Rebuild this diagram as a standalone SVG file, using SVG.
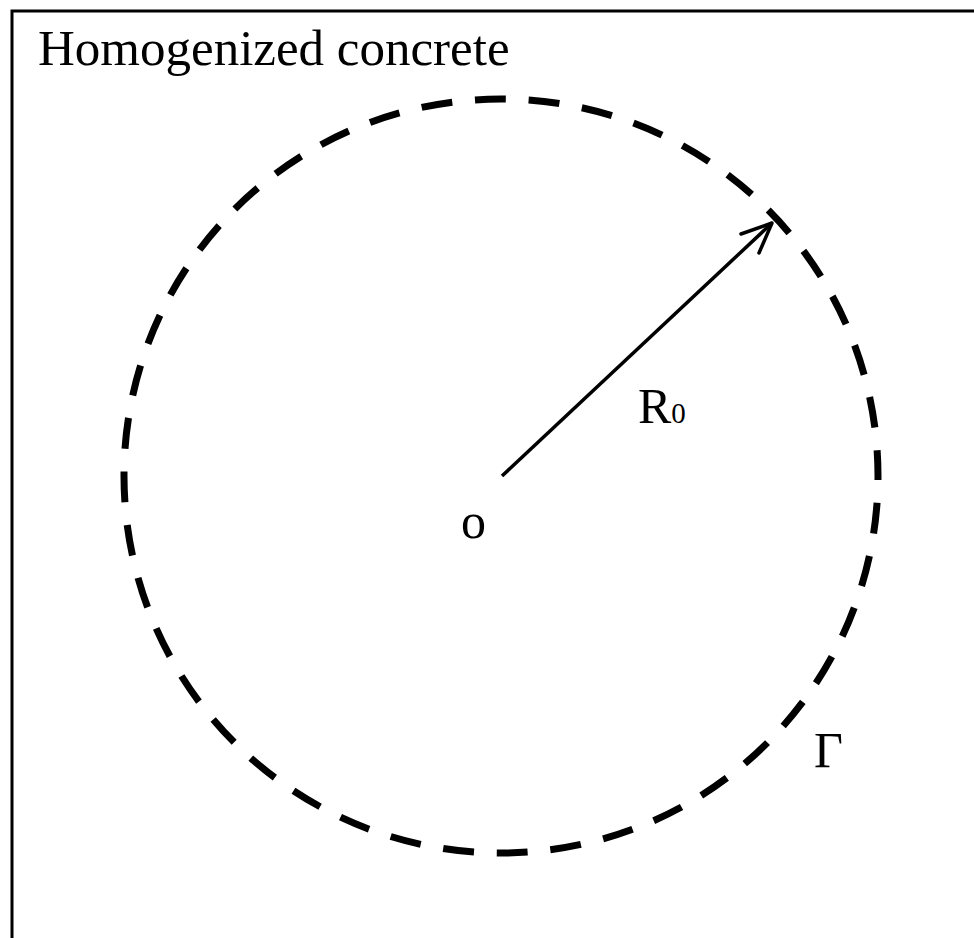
<svg xmlns="http://www.w3.org/2000/svg" width="974" height="938" viewBox="0 0 974 938">
<style>
.t{font-family:"Liberation Serif","Times New Roman",serif;fill:#000}
</style>
<rect width="974" height="938" fill="#fff"/>
<rect x="12" y="11" width="980" height="960" fill="none" stroke="#000" stroke-width="3"/>
<text class="t" x="38" y="65" font-size="51">Homogenized concrete</text>
<g id="boundary">
<circle cx="501" cy="476" r="377" fill="none" stroke="#000" stroke-width="7" stroke-dasharray="31 22.84" stroke-dashoffset="27"/>
</g>
<g id="connectors">
<line x1="502" y1="476" x2="772" y2="223" stroke="#000" stroke-width="3.5"/>
<path d="M741,234 L772,223 L759,253" fill="none" stroke="#000" stroke-width="3.5" stroke-linecap="round" stroke-linejoin="round"/>
</g>
<g id="labels">
<text class="t" x="638" y="423" font-size="50">R<tspan font-size="29">0</tspan></text>
<text class="t" x="461" y="538" font-size="50">o</text>
<text class="t" x="814" y="767" font-size="50">Γ</text>
</g>
</svg>
